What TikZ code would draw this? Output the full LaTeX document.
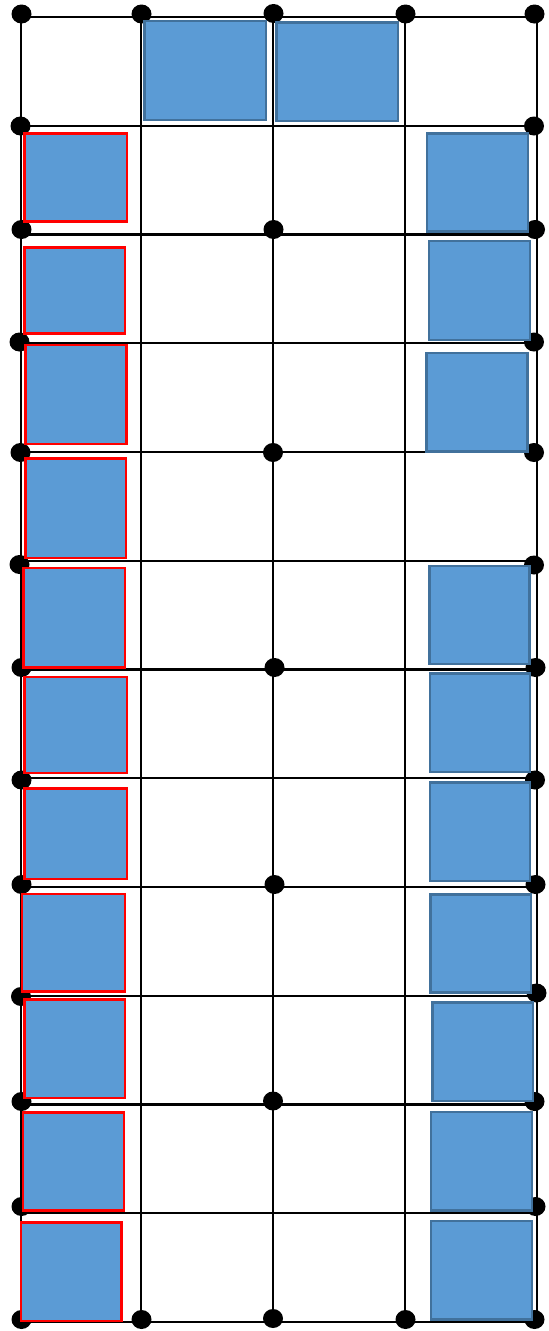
\documentclass[tikz,border=0pt]{standalone}
\usepackage{tikz}
\usepackage{xcolor}
\definecolor{seatfill}{HTML}{5B9BD5}
\definecolor{seatedge}{HTML}{41719C}
\definecolor{mark}{HTML}{FF0000}

\begin{document}
\begin{tikzpicture}[x=0.03cm, y=-0.03cm,
  gridline/.style={draw=black, line width=0.065cm},
  pin/.style={fill=black},
  seat/.style={fill=seatfill, draw=seatedge, line width=0.07cm},
  markseat/.style={fill=seatfill, draw=mark, line width=0.08cm}]
  \useasboundingbox (0,0) rectangle (548,1331);

  % grid
  \draw[gridline] (21,17) rectangle (537,1322);
  \draw[gridline] (141,17) -- (141,1322);
  \draw[gridline] (273,17) -- (273,1322);
  \draw[gridline] (405,17) -- (405,1322);
  \draw[gridline] (21,125.75) -- (537,125.75);
  \draw[gridline] (21,234.5) -- (537,234.5);
  \draw[gridline] (21,343.25) -- (537,343.25);
  \draw[gridline] (21,452) -- (537,452);
  \draw[gridline] (21,560.75) -- (537,560.75);
  \draw[gridline] (21,669.5) -- (537,669.5);
  \draw[gridline] (21,778.25) -- (537,778.25);
  \draw[gridline] (21,887) -- (537,887);
  \draw[gridline] (21,995.75) -- (537,995.75);
  \draw[gridline] (21,1104.5) -- (537,1104.5);
  \draw[gridline] (21,1213.25) -- (537,1213.25);

  % pins
  \fill[pin] (21.5,14) circle [x radius=10, y radius=9.5];
  \fill[pin] (141.5,14) circle [x radius=10, y radius=9.5];
  \fill[pin] (273.5,13.5) circle [x radius=10, y radius=9.5];
  \fill[pin] (405.5,14) circle [x radius=10, y radius=9.5];
  \fill[pin] (534.5,14) circle [x radius=10, y radius=9.5];
  \fill[pin] (20.5,126) circle [x radius=10, y radius=9.5];
  \fill[pin] (534,126) circle [x radius=10, y radius=9.5];
  \fill[pin] (21.5,229.5) circle [x radius=10, y radius=9.5];
  \fill[pin] (273.5,229.5) circle [x radius=10, y radius=9.5];
  \fill[pin] (535,229.5) circle [x radius=10, y radius=9.5];
  \fill[pin] (19.5,342) circle [x radius=10, y radius=9.5];
  \fill[pin] (534,342) circle [x radius=10, y radius=9.5];
  \fill[pin] (20.5,452.5) circle [x radius=10, y radius=9.5];
  \fill[pin] (273,452.5) circle [x radius=10, y radius=9.5];
  \fill[pin] (534,452.5) circle [x radius=10, y radius=9.5];
  \fill[pin] (19.5,564.5) circle [x radius=10, y radius=9.5];
  \fill[pin] (534,565) circle [x radius=10, y radius=9.5];
  \fill[pin] (21.5,667.5) circle [x radius=10, y radius=9.5];
  \fill[pin] (274.5,667.5) circle [x radius=10, y radius=9.5];
  \fill[pin] (535.5,667.5) circle [x radius=10, y radius=9.5];
  \fill[pin] (21.5,780) circle [x radius=10, y radius=9.5];
  \fill[pin] (535,780) circle [x radius=10, y radius=9.5];
  \fill[pin] (21.5,884.5) circle [x radius=10, y radius=9.5];
  \fill[pin] (274.5,884.5) circle [x radius=10, y radius=9.5];
  \fill[pin] (535.5,884.5) circle [x radius=10, y radius=9.5];
  \fill[pin] (21,996.5) circle [x radius=10, y radius=9.5];
  \fill[pin] (536.5,993) circle [x radius=10, y radius=9.5];
  \fill[pin] (21.5,1101.5) circle [x radius=10, y radius=9.5];
  \fill[pin] (273,1101) circle [x radius=10, y radius=9.5];
  \fill[pin] (534.5,1101.5) circle [x radius=10, y radius=9.5];
  \fill[pin] (21.5,1206.5) circle [x radius=10, y radius=9.5];
  \fill[pin] (535.5,1206.5) circle [x radius=10, y radius=9.5];
  \fill[pin] (21.5,1319.5) circle [x radius=10, y radius=9.5];
  \fill[pin] (141.5,1319.5) circle [x radius=10, y radius=9.5];
  \fill[pin] (273,1318.5) circle [x radius=10, y radius=9.5];
  \fill[pin] (405.5,1319.5) circle [x radius=10, y radius=9.5];
  \fill[pin] (534.5,1319.5) circle [x radius=10, y radius=9.5];

  % top row
  \draw[seat] (144.5,21) rectangle (266,120);
  \draw[seat] (276.5,22.5) rectangle (398,121);

  % left column
  \draw[markseat] (24.5,133.5) rectangle (127,221.5);
  \draw[markseat] (24.5,247.5) rectangle (125,333.5);
  \draw[markseat] (25.5,345) rectangle (126.5,444);
  \draw[markseat] (25.5,458.5) rectangle (126,558);
  \draw[markseat] (23.5,568) rectangle (125,667.5);
  \draw[markseat] (24.5,677) rectangle (127,773);
  \draw[markseat] (24.5,788.5) rectangle (127,879);
  \draw[markseat] (22,894) rectangle (125,991.5);
  \draw[markseat] (24.5,999.5) rectangle (125,1098);
  \draw[markseat] (23,1112.5) rectangle (124,1210.5);
  \draw[markseat] (21,1222.5) rectangle (121.5,1321);

  % right column
  \draw[seat] (427,133.5) rectangle (528,231.5);
  \draw[seat] (429,241) rectangle (530,340);
  \draw[seat] (426.5,353) rectangle (527.5,451.5);
  \draw[seat] (429.5,566) rectangle (529.5,664);
  \draw[seat] (430,673.5) rectangle (530,772);
  \draw[seat] (430,782.5) rectangle (530,881);
  \draw[seat] (430.5,894.5) rectangle (531,992.5);
  \draw[seat] (432.5,1002.5) rectangle (533,1101);
  \draw[seat] (431,1112) rectangle (532,1210.5);
  \draw[seat] (431,1221) rectangle (532,1319.5);
\end{tikzpicture}
\end{document}
